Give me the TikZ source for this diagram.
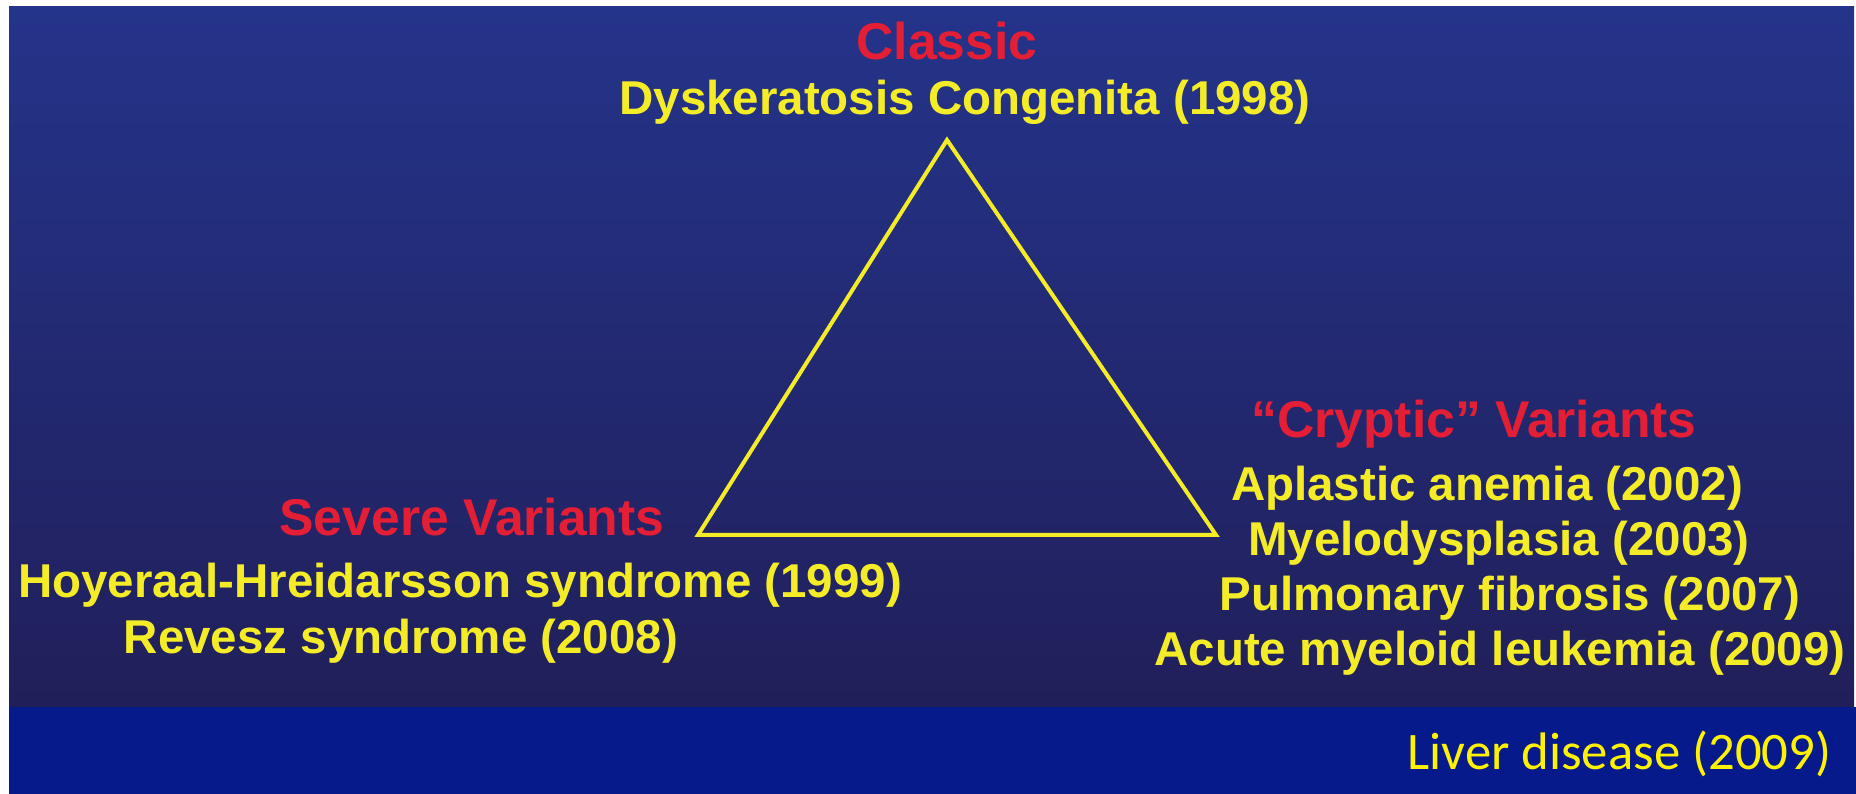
\documentclass[tikz,border=0pt]{standalone}
\usepackage{fontspec}
\setmainfont{Liberation Sans}
\newfontfamily\footerfont{Carlito}
\usepackage{xcolor}
\newcommand{\PixelCm}{0.01}
\newcommand{\ListTop}{501}
\newcommand{\ListStep}{55}
\newlength{\Pixel}
\setlength{\Pixel}{\PixelCm cm}
\definecolor{SlideTop}{RGB}{36,52,138}
\definecolor{SlideMid}{RGB}{40,46,122}
\definecolor{SlideBottom}{RGB}{33,31,90}
\definecolor{BandBlue}{RGB}{6,26,140}
\definecolor{TitleRed}{RGB}{228,30,52}
\definecolor{TextYellow}{RGB}{245,236,40}
\colorlet{FooterYellow}{yellow}

\begin{document}
\begin{tikzpicture}[x=\Pixel, y=-\Pixel,
		heading/.style={anchor=base, inner sep=0pt, text=TitleRed,
			font=\fontsize{14.7}{16}\selectfont\bfseries},
		entry/.style={anchor=base, inner sep=0pt, text=TextYellow,
			font=\fontsize{13.5}{15}\selectfont\bfseries}]
		\useasboundingbox (0,0) rectangle (1856,794);
		\fill[white] (0,0) rectangle (1856,794);
		\shade[top color=SlideTop, middle color=SlideMid, bottom color=SlideBottom]
		(9,7) rectangle (1854,707);
		\fill[BandBlue] (9,707) rectangle (1856,794);
		
		% the triangle
		\coordinate (apex) at (947,140);
		\coordinate (left) at (698,535);
		\coordinate (right) at (1216,535);
		\draw[TextYellow, line width=4\Pixel] (apex) -- (left) -- (right) -- cycle;
		
		\node[heading] (classic) at (947,60) {Classic};
		\node[entry] (dc) at (965,115) {Dyskeratosis Congenita (1998)};
		
		\node[heading] (severe) at (472,535) {Severe Variants};
		\node[entry] (hh) at (460,598) {Hoyeraal-Hreidarsson syndrome (1999)};
		\node[entry] (revesz) at (401,653) {Revesz syndrome (2008)};
		
		\node[heading] (cryptic) at (1474,438) {“Cryptic” Variants};
		\foreach \xPos/\disease [count=\i] in {1487/Aplastic anemia (2002),
			1499/Myelodysplasia (2003), 1510/Pulmonary fibrosis (2007),
			1500/Acute myeloid leukemia (2009)}{
			\pgfmathsetmacro{\yPos}{\ListTop + (\i-1)*\ListStep}
			\node[entry] (variant-\i) at (\xPos, \yPos) {\disease};
		}
		
		\node[anchor=base east, inner sep=0pt, text=FooterYellow,
		font=\footerfont\fontsize{15}{18}\selectfont] (liver) at (1832,769) {Liver disease (2009)};
	\end{tikzpicture}
\end{document}
